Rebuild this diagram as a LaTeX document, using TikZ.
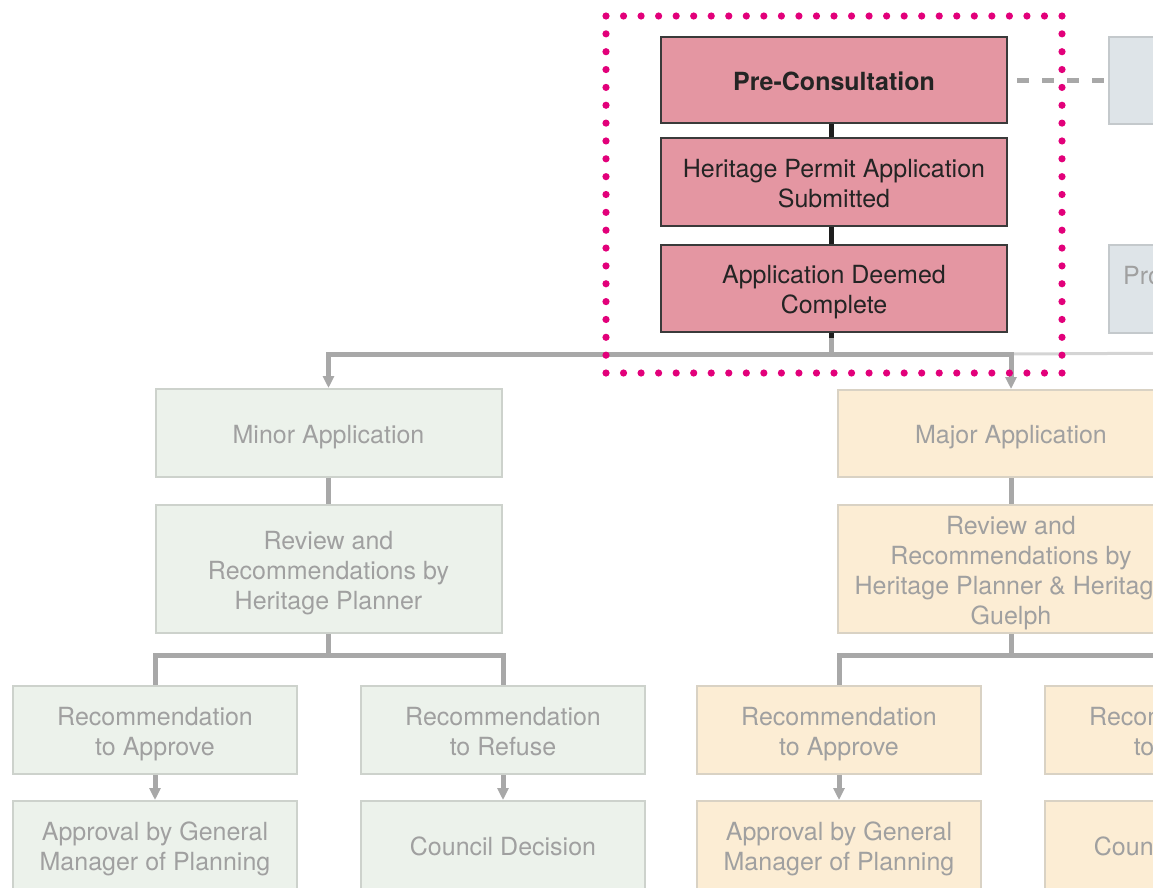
\documentclass[tikz,border=0pt]{standalone}
\usepackage{fontspec}
\setmainfont{TeX Gyre Heros}
\usetikzlibrary{arrows.meta,calc}
\definecolor{pinkfill}{HTML}{E496A2}
\definecolor{pinkline}{HTML}{3A3A3A}
\definecolor{darktext}{HTML}{242424}
\definecolor{greenfill}{HTML}{ECF2EB}
\definecolor{greenline}{HTML}{CDD2CC}
\definecolor{creamfill}{HTML}{FCEDD4}
\definecolor{creamline}{HTML}{D9D2C4}
\definecolor{bluefill}{HTML}{DEE4E8}
\definecolor{blueline}{HTML}{C4C9CC}
\definecolor{fadetext}{HTML}{A0A0A0}
\definecolor{conngray}{HTML}{A8A8A8}
\definecolor{connlight}{HTML}{D4D4D4}
\definecolor{darkconn}{HTML}{1E1E1E}
\definecolor{dotmag}{HTML}{E2007A}
% box caption: lines stacked 30pt apart, set a little low in the box
\newcommand{\boxlines}[1]{\raisebox{-4pt}[\height][\depth]{\begin{tabular}{@{}c@{}}#1\end{tabular}}}
\begin{document}
\begin{tikzpicture}[x=1pt,y=-1pt,
  box/.style={draw, line width=2pt, inner sep=0pt,
    font=\fontsize{25}{30}\selectfont},
  pinkbox/.style={box, fill=pinkfill, draw=pinkline, text=darktext,
    minimum width=346pt},
  greenbox/.style={box, fill=greenfill, draw=greenline, text=fadetext},
  creambox/.style={box, fill=creamfill, draw=creamline, text=fadetext},
  bluebox/.style={box, fill=bluefill, draw=blueline, text=fadetext,
    minimum width=346pt},
  wide/.style={minimum width=346pt},
  narrow/.style={minimum width=284pt},
  conn/.style={draw=conngray, line width=5pt},
  darklink/.style={draw=darkconn, line width=5pt},
  arr/.style={conn, -{Triangle[width=11pt,length=12pt]}},
  dot/.style={fill=dotmag}
]
\useasboundingbox (0,0) rectangle (1153,887);
\clip (0,0) rectangle (1153,887);

% central stack
\node[pinkbox, minimum height=86pt] (pre) at (834,80) {\boxlines{\textbf{Pre-Consultation}}};
\node[pinkbox, minimum height=88pt] (sub) at (834,182) {\boxlines{Heritage Permit Application\\Submitted}};
\node[pinkbox, minimum height=87pt] (dc) at (834,288.5) {\boxlines{Application Deemed\\Complete}};

% side boxes
\node[bluebox, minimum height=87pt] (side1) at (1282,80) {};
\node[bluebox, minimum height=88pt] (side2) at (1282,289) {};
\node[text=fadetext, font=\fontsize{25}{30}\selectfont, anchor=base west, inner sep=0pt] (side2txt) at (1123,284) {Pro};

% minor branch
\node[greenbox, wide, minimum height=88pt] (minor) at (328.5,433) {\boxlines{Minor Application}};
\node[greenbox, wide, minimum height=128pt] (minrev) at (328.5,569) {\boxlines{Review and\\Recommendations by\\Heritage Planner}};
\node[greenbox, narrow, minimum height=88pt] (minA) at (155,730) {\boxlines{Recommendation\\to Approve}};
\node[greenbox, narrow, minimum height=88pt] (minR) at (503,730) {\boxlines{Recommendation\\to Refuse}};
\node[greenbox, narrow, minimum height=88pt] (minGM) at (155,845) {\boxlines{Approval by General\\Manager of Planning}};
\node[greenbox, narrow, minimum height=88pt] (minCD) at (503,845) {\boxlines{Council Decision}};

% major branch
\node[creambox, wide, minimum height=87pt] (major) at (1011,433.5) {\boxlines{Major Application}};
\node[creambox, wide, minimum height=128pt] (majrev) at (1011,569) {\boxlines{Review and\\Recommendations by\\Heritage Planner \& Heritage\\Guelph}};
\node[creambox, narrow, minimum height=88pt] (majA) at (839,730) {\boxlines{Recommendation\\to Approve}};
\node[creambox, narrow, minimum height=88pt] (majR) at (1187,730) {\boxlines{Recommendation\\to Refuse}};
\node[creambox, narrow, minimum height=88pt] (majGM) at (839,845) {\boxlines{Approval by General\\Manager of Planning}};
\node[creambox, narrow, minimum height=88pt] (majCD) at (1187,845) {\boxlines{Council Decision}};

% links within the central stack
\draw[darklink] ($(pre.south)+(-3,0)$) -- ($(sub.north)+(-3,0)$);
\draw[darklink] ($(sub.south)+(-3,0)$) -- ($(dc.north)+(-3,0)$);
\draw[darklink] ($(dc.south)+(-3,0)$) -- ++(0,5) coordinate (dcfoot);
\draw[dashed, draw=conngray, line width=5pt, dash pattern=on 12pt off 13pt]
  ($(pre.east)+(9,0)$) -- (side1.west);

% split into minor and major
\coordinate (split) at (dcfoot |- 0,354);
\coordinate (far) at (1200,353);
\draw[conn] (dcfoot) -- (split);
\draw[draw=connlight, line width=3pt] (major.north |- split) -- (far);
\draw[arr] (split) -| (minor.north);
\draw[arr] (split) -| (major.north);

% minor branch links
\draw[conn] (minor.south) -- (minrev.north);
\coordinate (minsplit) at (minrev.south |- 0,655);
\draw[conn] (minrev.south) -- (minsplit);
\draw[conn] (minsplit) -| (minA.north);
\draw[conn] (minsplit) -| (minR.north);
\draw[arr] (minA.south) -- (minGM.north);
\draw[arr] (minR.south) -- (minCD.north);

% major branch links
\draw[conn] (major.south) -- (majrev.north);
\coordinate (majsplit) at (majrev.south |- 0,655);
\draw[conn] (majrev.south) -- (majsplit);
\draw[conn] (majsplit) -| (majA.north);
\draw[conn] (majsplit) -| (majR.north);
\draw[arr] (majA.south) -- (majGM.north);
\draw[arr] (majR.south) -- (majCD.north);

% dotted highlight frame
\foreach \i in {0,...,26} {
  \fill[dot] ({606+\i*456/26},16) circle (3.6pt);
  \fill[dot] ({606+\i*456/26},373) circle (3.6pt);
}
\foreach \i in {1,...,19} {
  \fill[dot] (606,{16+\i*357/20}) circle (3.6pt);
  \fill[dot] (1062,{16+\i*357/20}) circle (3.6pt);
}
\end{tikzpicture}
\end{document}
